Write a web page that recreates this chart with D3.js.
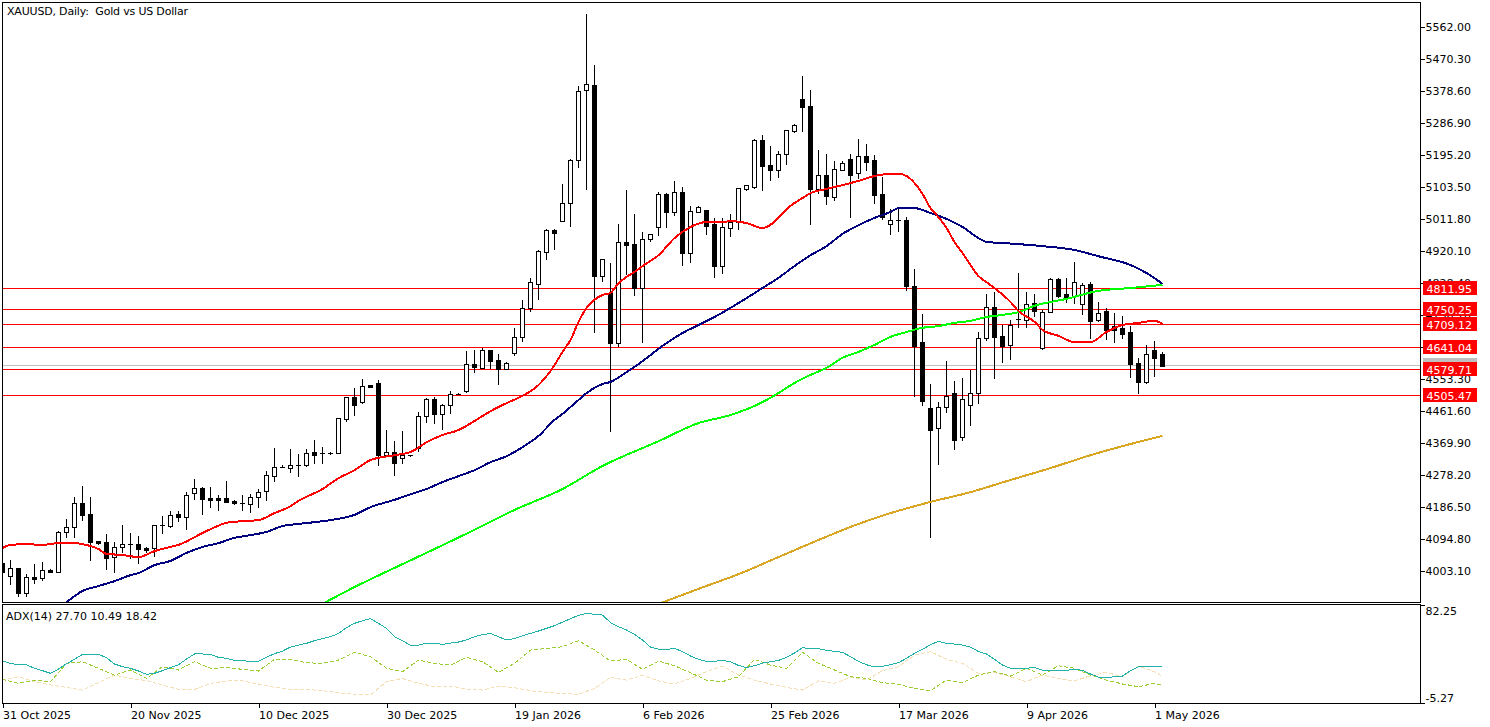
<!DOCTYPE html>
<html><head><meta charset="utf-8">
<style>
html,body{margin:0;padding:0;background:#fff;overflow:hidden}
svg{display:block}
text{font-family:"DejaVu Sans",sans-serif;font-size:11px;fill:#000;white-space:pre}
.axis path{display:none}
.axis line{stroke:#000;shape-rendering:crispEdges}
.frame{stroke:#000;stroke-width:1;shape-rendering:crispEdges;fill:none}
</style>
<script src="https://cdn.jsdelivr.net/npm/d3@7/dist/d3.min.js"></script>
</head><body>
<svg id="c" width="1490" height="727"></svg>
<script>
// --- Daily candles, oldest first ---
const opens=[4026,3989,4012,3940,3986,3983,4006,4000,4115,4129,4198,4166,4089,4086,4043,4072,4080,4080,4069,4069,4135,4132,4166,4158,4226,4241,4212,4212,4212,4204,4198,4195,4215,4232,4275,4301,4298,4307,4307,4344,4341,4341,4341,4438,4502,4487,4536,4542,4335,4344,4327,4335,4355,4447,4496,4453,4479,4510,4519,4596,4585,4637,4608,4582,4628,4674,4757,4826,4917,4980,5006,5058,5181,5381,5396,4848,4800,4656,4946,4940,4814,4954,4989,5084,5032,5089,4914,5032,5038,4997,4877,4986,5003,5098,5104,5238,5167,5152,5198,5264,5356,5336,5098,5138,5075,5152,5184,5144,5192,5181,5084,4997,5009,5009,4820,4659,4470,4413,4473,4513,4387,4479,4513,4671,4760,4677,4651,4723,4723,4771,4642,4745,4840,4797,4791,4768,4826,4723,4748,4705,4700,4688,4599,4545,4637,4625];
const highs=[4026,4035,4012,3994,4023,4029,4009,4118,4152,4215,4246,4215,4089,4109,4086,4135,4112,4103,4072,4135,4161,4175,4175,4229,4266,4243,4243,4221,4261,4207,4221,4223,4238,4289,4355,4307,4352,4338,4352,4378,4358,4344,4441,4502,4528,4553,4536,4550,4407,4375,4404,4335,4459,4499,4502,4481,4519,4513,4634,4637,4642,4637,4625,4602,4700,4780,4843,4923,4983,4983,5112,5184,5393,5599,5453,4897,4886,4997,5095,5026,4974,4969,5089,5086,5121,5104,5049,5049,5038,5015,5015,5026,5101,5109,5241,5253,5221,5207,5267,5284,5422,5382,5210,5198,5178,5178,5198,5241,5227,5195,5132,5040,5046,5017,4868,4740,4539,4487,4605,4548,4556,4579,4688,4797,4803,4708,4723,4857,4803,4797,4751,4843,4843,4843,4889,4828,4831,4774,4757,4743,4734,4705,4614,4651,4662,4631];
const lows=[3997,3963,3928,3928,3966,3974,3997,4000,4098,4098,4146,4032,4078,4006,3997,4055,4037,4023,4055,4043,4109,4126,4143,4121,4207,4164,4184,4175,4198,4192,4175,4169,4184,4204,4258,4298,4284,4272,4301,4309,4309,4335,4338,4430,4447,4481,4528,4304,4335,4275,4309,4329,4344,4427,4424,4407,4453,4507,4513,4571,4582,4582,4536,4582,4619,4659,4745,4780,4894,4923,5003,4989,5158,5095,4685,4831,4401,4645,4851,4791,4656,4946,4963,4986,5020,4877,4886,5029,4966,4843,4854,4960,4980,5092,5098,5092,5121,5129,5167,5258,5261,4994,5084,5052,5063,5152,5015,5126,5149,5055,5009,4966,4974,4806,4502,4476,4098,4307,4456,4350,4375,4418,4481,4662,4553,4599,4608,4700,4700,4731,4637,4743,4785,4771,4768,4737,4668,4717,4665,4656,4668,4556,4510,4539,4559,4588];
const closes=[4000,4012,3940,3986,3980,4006,4000,4115,4129,4198,4164,4086,4083,4040,4072,4080,4081,4066,4063,4135,4136,4164,4158,4221,4241,4209,4207,4207,4201,4198,4195,4215,4229,4278,4301,4302,4307,4306,4341,4335,4338,4341,4441,4502,4479,4533,4530,4335,4344,4312,4335,4335,4447,4496,4453,4479,4510,4510,4596,4588,4637,4605,4582,4599,4674,4757,4831,4920,4980,4971,5058,5181,5379,5399,4848,4897,4656,4946,4937,4814,4954,4969,5084,5032,5089,4914,5035,5046,4992,4877,4989,5003,5101,5109,5238,5164,5152,5198,5267,5281,5333,5098,5138,5078,5155,5172,5138,5192,5175,5081,5017,5009,5010,4820,4648,4490,4407,4473,4505,4378,4496,4513,4671,4760,4674,4648,4708,4724,4768,4748,4745,4840,4791,4788,4831,4823,4720,4743,4694,4694,4682,4596,4545,4625,4614,4591];

// --- Moving averages: bar index + value ---
const maRedBars=[0,1,3,5,7,9,10,12,13,15,17,19,21,22,25,26,28,30,32,34,36,37,40,42,44,46,49,51,53,55,57,59,61,63,65,67,69,70,71,72,73,75,76,77,78,79,80,82,84,86,88,90,91,93,95,97,98,100,101,103,105,107,109,111,112,113,114,115,116,117,118,119,120,121,122,123,124,126,127,129,130,132,134,136,138,140,142,144,145];
const maRedVals=[4069,4078,4080,4078,4083,4083,4080,4066,4052,4049,4043,4060,4072,4078,4112,4123,4141,4146,4149,4169,4189,4204,4238,4269,4292,4321,4335,4344,4372,4393,4407,4433,4461,4484,4505,4536,4593,4631,4665,4717,4757,4794,4800,4828,4846,4860,4877,4908,4957,4989,5003,5003,5006,5000,4986,5015,5040,5072,5086,5098,5109,5121,5135,5141,5141,5135,5115,5084,5043,5017,4986,4946,4914,4880,4848,4831,4814,4774,4748,4717,4694,4677,4659,4659,4688,4708,4714,4720,4711];
const maBlueBars=[7,8,10,12,14,16,17,19,21,23,25,27,29,31,33,35,37,41,44,46,49,51,53,55,57,59,61,63,65,67,69,70,71,72,73,75,76,78,79,81,83,85,87,89,91,93,95,97,99,101,103,105,107,109,111,112,114,116,118,120,122,123,125,130,134,137,141,143,145];
const maBlueVals=[3900,3914,3946,3960,3974,3991,3997,4020,4032,4055,4072,4083,4098,4106,4115,4132,4138,4149,4164,4186,4207,4223,4238,4258,4275,4292,4315,4332,4358,4390,4436,4453,4473,4493,4513,4539,4545,4573,4588,4622,4656,4685,4708,4731,4757,4785,4814,4843,4877,4908,4934,4969,4994,5015,5032,5043,5043,5029,5012,4989,4957,4946,4943,4934,4923,4905,4880,4857,4826];
const maGreenBars=[40,44,49,54,59,64,70,75,82,87,91,95,97,99,101,103,105,107,109,111,113,115,117,119,121,123,125,127,129,133,137,141,145];
const maGreenVals=[3909,3957,4012,4066,4121,4178,4238,4304,4375,4427,4450,4487,4513,4542,4565,4585,4614,4631,4651,4674,4688,4700,4705,4714,4720,4731,4737,4745,4763,4783,4806,4814,4823];
const maGoldBars=[82,87,92,97,102,107,111,116,121,126,131,136,141,145];
const maGoldVals=[3909,3952,3994,4043,4092,4138,4169,4201,4229,4264,4298,4335,4367,4390];

// --- Horizontal levels and price axis ---
const levels=[4811.95,4750.25,4709.12,4641.04,4579.71,4505.47];
const bidPrice=4593.6;
const priceTicks=[5562.00,5470.30,5378.60,5286.90,5195.20,5103.50,5011.80,4920.10,4828.40,4736.70,4645.00,4553.30,4461.60,4369.90,4278.20,4186.50,4094.80,4003.10];
const dateTickBars=[0,16,32,48,64,80,96,112,128,144];
const dateTickLabels=["31 Oct 2025","20 Nov 2025","10 Dec 2025","30 Dec 2025","19 Jan 2026","6 Feb 2026","25 Feb 2026","17 Mar 2026","9 Apr 2026","1 May 2026"];

// --- ADX(14) ---
const adxMain=[32.5,30.1,28.9,28.9,25.7,23.6,21.2,25.1,29.8,33.7,38.2,38.2,38.2,35.2,29.5,27.2,25.7,23.3,20.3,21.2,23.6,26.3,28.9,34.0,38.5,38.5,38.2,35.5,34.6,32.8,32.5,31.9,31.9,35.5,38.8,41.1,44.7,46.5,48.0,50.4,52.2,53.9,56.9,62.0,65.9,68.2,70.0,65.9,61.4,53.9,50.4,46.2,46.5,48.0,48.0,47.1,48.3,49.2,51.0,53.9,55.7,56.9,53.9,51.0,52.2,54.8,56.9,59.0,61.4,63.8,67.0,70.0,73.0,74.8,73.9,73.3,66.5,62.9,59.9,56.0,51.0,44.7,42.9,42.6,43.5,40.6,36.7,33.7,31.9,31.9,32.8,31.6,28.3,26.3,28.0,30.4,31.6,32.8,35.5,39.4,44.1,43.2,43.2,41.7,40.9,40.0,36.1,31.9,28.9,26.9,27.5,28.9,30.7,34.6,39.1,42.6,46.8,49.8,48.0,47.4,46.5,44.7,40.6,38.5,33.7,28.6,25.7,25.7,25.7,26.6,23.9,23.9,23.9,23.9,24.8,23.9,20.6,17.9,17.3,18.2,18.8,23.6,27.2,27.5,27.5,27.7];
const diBars=[0,2,4,6,8,10,12,14,16,18,20,22,24,26,28,30,32,34,36,38,40,42,44,46,48,50,52,54,56,58,60,62,64,66,68,70,72,74,76,78,80,82,84,86,88,90,92,94,96,98,100,102,104,106,108,110,112,114,116,118,120,122,124,126,128,130,132,134,136,138,140,142,144,145];
const diPlus=[15.8,12.3,15.2,13.8,30.1,31.6,25.7,19.7,24.2,16.7,27.2,24.2,31.6,25.7,26.3,24.8,23.3,33.7,33.7,30.7,30.1,33.1,40.0,36.1,25.7,22.7,33.1,30.1,28.6,35.5,31.6,22.1,30.1,42.0,43.5,45.0,50.4,42.0,32.2,33.7,24.8,32.2,28.0,21.8,15.2,13.8,18.2,33.7,28.6,25.7,40.0,30.1,24.2,18.2,16.7,12.9,11.4,7.8,5.7,15.2,12.9,19.7,22.7,18.8,25.7,19.7,28.0,25.7,19.7,15.2,11.7,9.3,12.3,10.49];
const diMinus=[15.2,18.2,13.8,10.8,8.7,6.3,12.9,19.7,16.7,14.7,10.8,6.9,6.9,12.3,14.4,14.4,11.7,8.7,6.9,6.9,5.7,3.9,2.4,1.9,13.8,16.7,12.3,9.3,9.9,7.2,6.3,9.9,8.4,5.7,4.2,3.3,2.4,7.8,17.6,15.2,19.4,14.4,11.7,16.7,22.7,27.7,19.7,15.2,11.7,8.7,6.3,14.4,12.3,17.6,15.2,23.6,27.2,37.6,40.6,33.7,30.1,21.2,21.8,18.2,13.8,19.7,16.7,14.4,19.1,22.1,18.2,27.7,22.7,18.42];
const adxTicks=[82.25,-5.27];

const titleText="XAUUSD, Daily:  Gold vs US Dollar";
const adxText="ADX(14) 27.70 10.49 18.42";

// --- Scales ---
const svg=d3.select("#c");
const X=d3.scaleLinear().domain([0,145]).range([2.5,1162.5]);
const Y=d3.scaleLinear().domain([5562,4003.1]).range([27,571]);
const A=d3.scaleLinear().domain([82.25,-5.27]).range([605,703]);
const L=1420.5, T=2.5, MB=602.5, ST=604.5, SB=703.5, Lf=2.5;
const levelRow=p=>Math.floor(Y(p)-0.6);

svg.append("defs").append("clipPath").attr("id","mp").append("rect")
  .attr("x",2).attr("y",2).attr("width",1418).attr("height",600.5);
const plot=svg.append("g").attr("clip-path","url(#mp)");

// bid line + levels
plot.append("line").attr("x1",2).attr("x2",1420).attr("y1",Math.round(Y(bidPrice))+.5).attr("y2",Math.round(Y(bidPrice))+.5)
  .attr("stroke","#c0c0c0").attr("shape-rendering","crispEdges");
plot.selectAll("line.lv").data(levels).join("line").attr("class","lv")
  .attr("x1",2).attr("x2",1420)
  .attr("y1",d=>levelRow(d)+.5).attr("y2",d=>levelRow(d)+.5)
  .attr("stroke","#ff0000").attr("shape-rendering","crispEdges");

// candles
const snap=v=>Math.round(v);
const bars=d3.range(opens.length);
const cg=plot.append("g").attr("shape-rendering","crispEdges");
cg.selectAll("line.w").data(bars).join("line").attr("class","w")
  .attr("x1",i=>X(i)).attr("x2",i=>X(i))
  .attr("y1",i=>snap(Y(highs[i]))).attr("y2",i=>snap(Y(lows[i])))
  .attr("stroke","#000");
cg.selectAll("rect.b").data(bars).join("rect").attr("class","b")
  .each(function(i){
    const t=snap(Y(Math.max(opens[i],closes[i]))), b=snap(Y(Math.min(opens[i],closes[i])));
    const up=closes[i]>opens[i];
    const s=d3.select(this);
    if(b-t<=1){
      s.attr("x",X(i)-2.5).attr("width",5).attr("y",t).attr("height",1).attr("fill","#000");
    } else if(up){
      s.attr("x",X(i)-2).attr("width",4).attr("y",t+.5).attr("height",b-t).attr("fill","#fff").attr("stroke","#000");
    } else {
      s.attr("x",X(i)-2.5).attr("width",5).attr("y",t).attr("height",b-t+1).attr("fill","#000");
    }
  });

// moving averages
const maLine=d3.line().x(d=>X(d[0])).y(d=>Y(d[1])).curve(d3.curveMonotoneX);
const zip=(a,b)=>a.map((v,i)=>[v,b[i]]);
[[maGoldBars,maGoldVals,"#daa520"],[maGreenBars,maGreenVals,"#00ff00"],[maBlueBars,maBlueVals,"#000080"],[maRedBars,maRedVals,"#ff0000"]]
 .forEach(([b,v,c])=>{
   plot.append("path").attr("d",maLine(zip(b,v))).attr("fill","none").attr("stroke",c).attr("stroke-width",2).attr("shape-rendering","crispEdges");
 });

// ADX pane
const subLine=d3.line().x(d=>X(d[0])).y(d=>A(d[1])).curve(d3.curveLinear);
svg.append("path").attr("d",subLine(zip(diBars,diMinus))).attr("fill","none").attr("stroke","#f5deb3").attr("stroke-dasharray","4,2").attr("shape-rendering","crispEdges");
svg.append("path").attr("d",subLine(zip(diBars,diPlus))).attr("fill","none").attr("stroke","#9acd32").attr("stroke-dasharray","4,2").attr("shape-rendering","crispEdges");
svg.append("path").attr("d",subLine(zip(d3.range(adxMain.length),adxMain))).attr("fill","none").attr("stroke","#20b2aa").attr("shape-rendering","crispEdges");

// frames
svg.append("rect").attr("class","frame").attr("x",Lf).attr("y",T).attr("width",L-Lf).attr("height",MB-T);
svg.append("rect").attr("class","frame").attr("x",Lf).attr("y",ST).attr("width",L-Lf).attr("height",SB-ST);

// axes
const axR=svg.append("g").attr("class","axis").attr("transform",`translate(${L},0)`)
  .call(d3.axisRight(Y).tickValues(priceTicks).tickFormat(d=>d.toFixed(2)).tickSize(4).tickPadding(1));
const axA=svg.append("g").attr("class","axis").attr("transform",`translate(${L},0)`)
  .call(d3.axisRight(A).tickValues(adxTicks).tickFormat(d=>d.toFixed(2)).tickSize(4).tickPadding(1));
axA.selectAll("text").attr("dy",d=>d>0?"0.82em":"-0.16em");
const axB=svg.append("g").attr("class","axis").attr("transform",`translate(0,${SB})`)
  .call(d3.axisBottom(X).tickValues(dateTickBars).tickFormat((d,i)=>dateTickLabels[i]).tickSize(4).tickPadding(3.5));
axB.selectAll("text").attr("text-anchor","start");
svg.selectAll(".axis text").style("font-size","11px").style("font-family",'"DejaVu Sans",sans-serif');

// price labels
const lab=(p,c,row)=>{
  const y=row+.5;
  svg.append("rect").attr("x",1423).attr("y",y-7.5).attr("width",54).attr("height",14).attr("fill",c);
  svg.append("text").attr("x",1426.5).attr("y",y+4).style("fill","#fff").text(p.toFixed(2));
};
lab(bidPrice,"#c0c0c0",Math.round(Y(bidPrice)));
levels.forEach(p=>lab(p,"#ff0000",levelRow(p)));

svg.append("text").attr("x",7).attr("y",15).attr("textLength",181).attr("lengthAdjust","spacing").text(titleText);
svg.append("text").attr("x",6).attr("y",620).text(adxText);
</script>
</body></html>
